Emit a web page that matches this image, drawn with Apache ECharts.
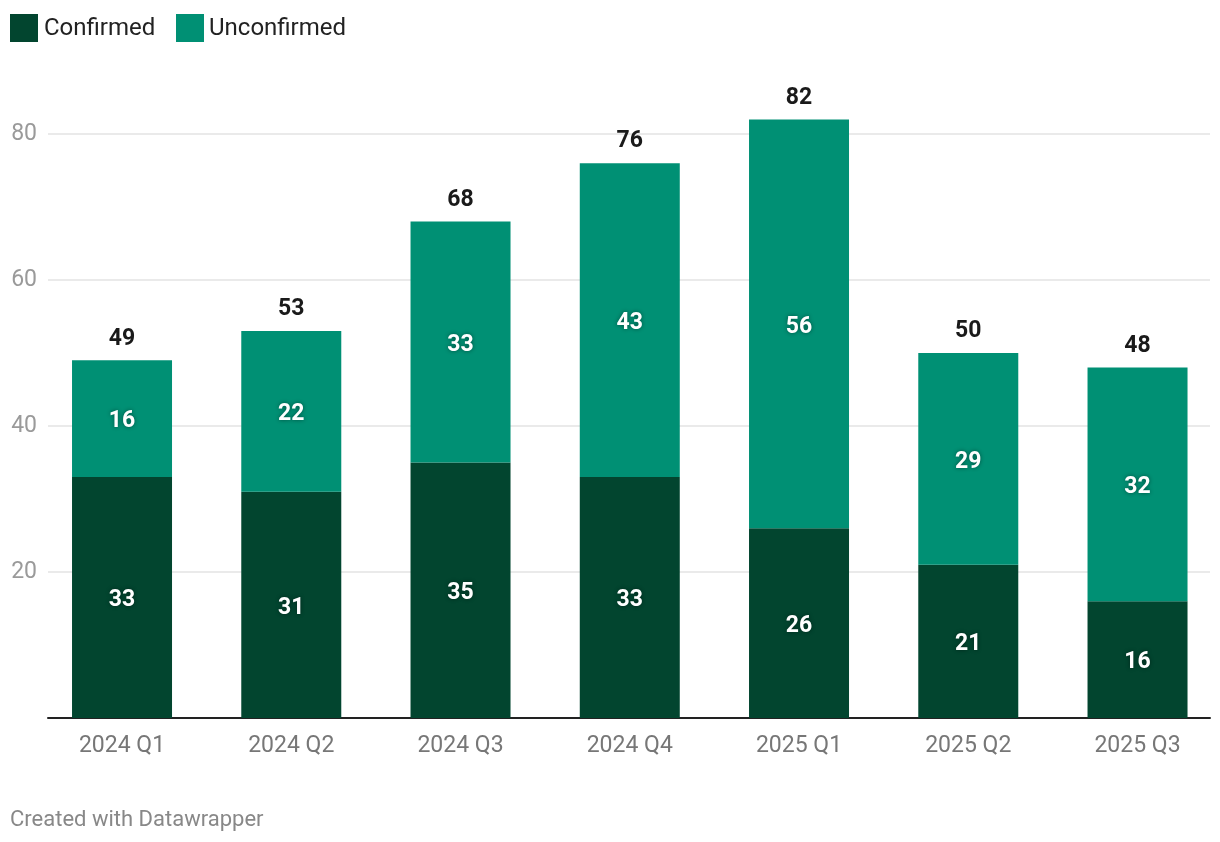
<!DOCTYPE html>
<html><head><meta charset="utf-8">
<script src="https://cdn.jsdelivr.net/npm/echarts@6/dist/echarts.min.js"></script>
<style>html,body{margin:0;padding:0;background:#fff;overflow:hidden;}#c{width:1240px;height:842px;}</style>
</head><body><div id="c"></div>
<script>
const categories = ['2024 Q1','2024 Q2','2024 Q3','2024 Q4','2025 Q1','2025 Q2','2025 Q3'];
const confirmed = [33,31,35,33,26,21,16];
const unconfirmed = [16,22,33,43,56,29,32];
const totals = [49,53,68,76,82,50,48];
const yTicks = [0,20,40,60,80];

const C1 = '#02452f', C2 = '#009074';
const chart = echarts.init(document.getElementById('c'));
const innerLabel = {show:true, position:'inside', offset:[0,3], color:'#fff', fontFamily:'Roboto', fontWeight:'bold', fontSize:23,
  textShadowColor:'rgba(0,0,0,0.45)', textShadowBlur:4};
chart.setOption({
  animation:false,
  textStyle:{fontFamily:'Roboto'},
  legend:{show:false},
  graphic:[
    {type:'rect', shape:{x:10,y:14,width:28,height:28}, style:{fill:C1}},
    {type:'text', left:44, top:17, style:{text:'Confirmed', font:'24px Roboto', fill:'#222'}},
    {type:'rect', shape:{x:176,y:14,width:28,height:28}, style:{fill:C2}},
    {type:'text', left:209, top:17, style:{text:'Unconfirmed', font:'24px Roboto', fill:'#222'}},
    {type:'text', left:10, top:809, style:{text:'Created with Datawrapper', font:'22px Roboto', fill:'#888'}}
  ],
  grid:[
    {left:48, width:1162, top:134, bottom:124},
    {left:37.4, width:1184.75, top:134, bottom:124}
  ],
  xAxis:[
    {gridIndex:0, type:'category', data:categories, axisLine:{show:true, lineStyle:{color:'#222', width:2}},
      axisTick:{show:false}, axisLabel:{show:false}, splitLine:{show:false}},
    {gridIndex:1, type:'category', data:categories, axisLine:{show:false}, axisTick:{show:false},
      axisLabel:{color:'#777', fontSize:23, fontFamily:'Roboto', margin:17}}
  ],
  yAxis:[
    {gridIndex:0, type:'value', min:0, max:80, interval:20, axisLine:{show:false}, axisTick:{show:false},
      axisLabel:{color:'#9a9a9a', fontSize:23, fontFamily:'Roboto', margin:11,
        formatter:v=> (v===0 ? '' : (yTicks.includes(v) ? String(v) : ''))},
      splitLine:{show:true, lineStyle:{color:'#e3e3e3', width:1.5}}},
    {gridIndex:1, type:'value', min:0, max:80, interval:20, show:false, splitLine:{show:false}}
  ],
  series:[
    {name:'Confirmed', type:'bar', xAxisIndex:1, yAxisIndex:1, stack:'s', data:confirmed, barWidth:100, clip:false,
      itemStyle:{color:C1}, label:innerLabel, z:3},
    {name:'Unconfirmed', type:'bar', xAxisIndex:1, yAxisIndex:1, stack:'s', data:unconfirmed, barWidth:100, clip:false,
      itemStyle:{color:C2}, label:innerLabel, z:3},
    {name:'Total', type:'bar', xAxisIndex:1, yAxisIndex:1, stack:'s', data:totals.map(()=>0), barWidth:100, clip:false,
      itemStyle:{color:'transparent'}, z:3,
      label:{show:true, position:'top', distance:10, color:'#1a1a1a', fontFamily:'Roboto', fontWeight:'bold', fontSize:23,
        formatter:p=>String(totals[p.dataIndex])}}
  ]
});
</script></body></html>
